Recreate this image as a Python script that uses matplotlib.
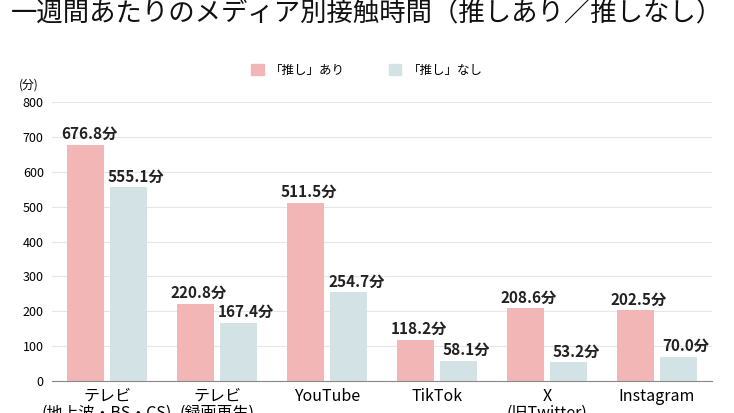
import numpy as np
import matplotlib.pyplot as plt
from matplotlib.patches import Patch

plt.rcParams['font.family'] = ['Noto Sans CJK JP', 'DejaVu Sans']

categories = ["テレビ\n(地上波・BS・CS)", "テレビ\n(録画再生)", "YouTube", "TikTok", "X\n(旧Twitter)", "Instagram"]
oshi_ari = [676.8, 220.8, 511.5, 118.2, 208.6, 202.5]
oshi_nashi = [555.1, 167.4, 254.7, 58.1, 53.2, 70.0]
series_names = ["「推し」あり", "「推し」なし"]
yticks = [0, 100, 200, 300, 400, 500, 600, 700, 800]

pink = '#f2b6b6'
blue = '#d3e3e5'

fig = plt.figure(figsize=(7.34, 4.13), dpi=100)
ax = fig.add_axes([0.071, 0.0775, 0.899, 0.6755])

x = np.arange(len(categories))
w = 0.335
off = 0.195
ax.bar(x - off, oshi_ari, w, color=pink, zorder=3)
ax.bar(x + off, oshi_nashi, w, color=blue, zorder=3)

for xi, v in zip(x - off, oshi_ari):
	ax.text(xi + 0.03, v + 8, f"{v:.1f}分", ha='center', va='bottom', fontsize=11, fontweight='bold', color='#222222')
for xi, v in zip(x + off, oshi_nashi):
	ax.text(xi + 0.07, v + 8, f"{v:.1f}分", ha='center', va='bottom', fontsize=11, fontweight='bold', color='#222222')

ax.set_xlim(-0.5, 5.5)
ax.set_ylim(0, 800)
ax.set_yticks(yticks)
ax.set_xticks(x)
ax.set_xticklabels(categories, fontsize=11.5, linespacing=1.0)
ax.tick_params(axis='y', length=0, labelsize=9, pad=6)
ax.tick_params(axis='x', length=0, pad=5)
ax.grid(axis='y', color='#e6e6e6', linewidth=0.8, zorder=0)
for s in ['top', 'right', 'left']:
	ax.spines[s].set_visible(False)
ax.spines['bottom'].set_color('#888888')
ax.spines['bottom'].set_zorder(4)

ax.text(-0.035, 1.06, "(分)", transform=ax.transAxes, fontsize=8.5, ha='center', va='center')

handles = [Patch(color=pink), Patch(color=blue)]
fig.legend(handles, series_names, loc='center', bbox_to_anchor=(0.5, 0.83), ncol=2, frameon=False,
	fontsize=9, handlelength=1.0, handleheight=1.0, columnspacing=3.5, handletextpad=0.5)

fig.text(0.5, 0.965, "一週間あたりのメディア別接触時間（推しあり／推しなし）", ha='center', va='center',
	fontsize=19, color='#111111')

fig.savefig('out.png', dpi=100)
